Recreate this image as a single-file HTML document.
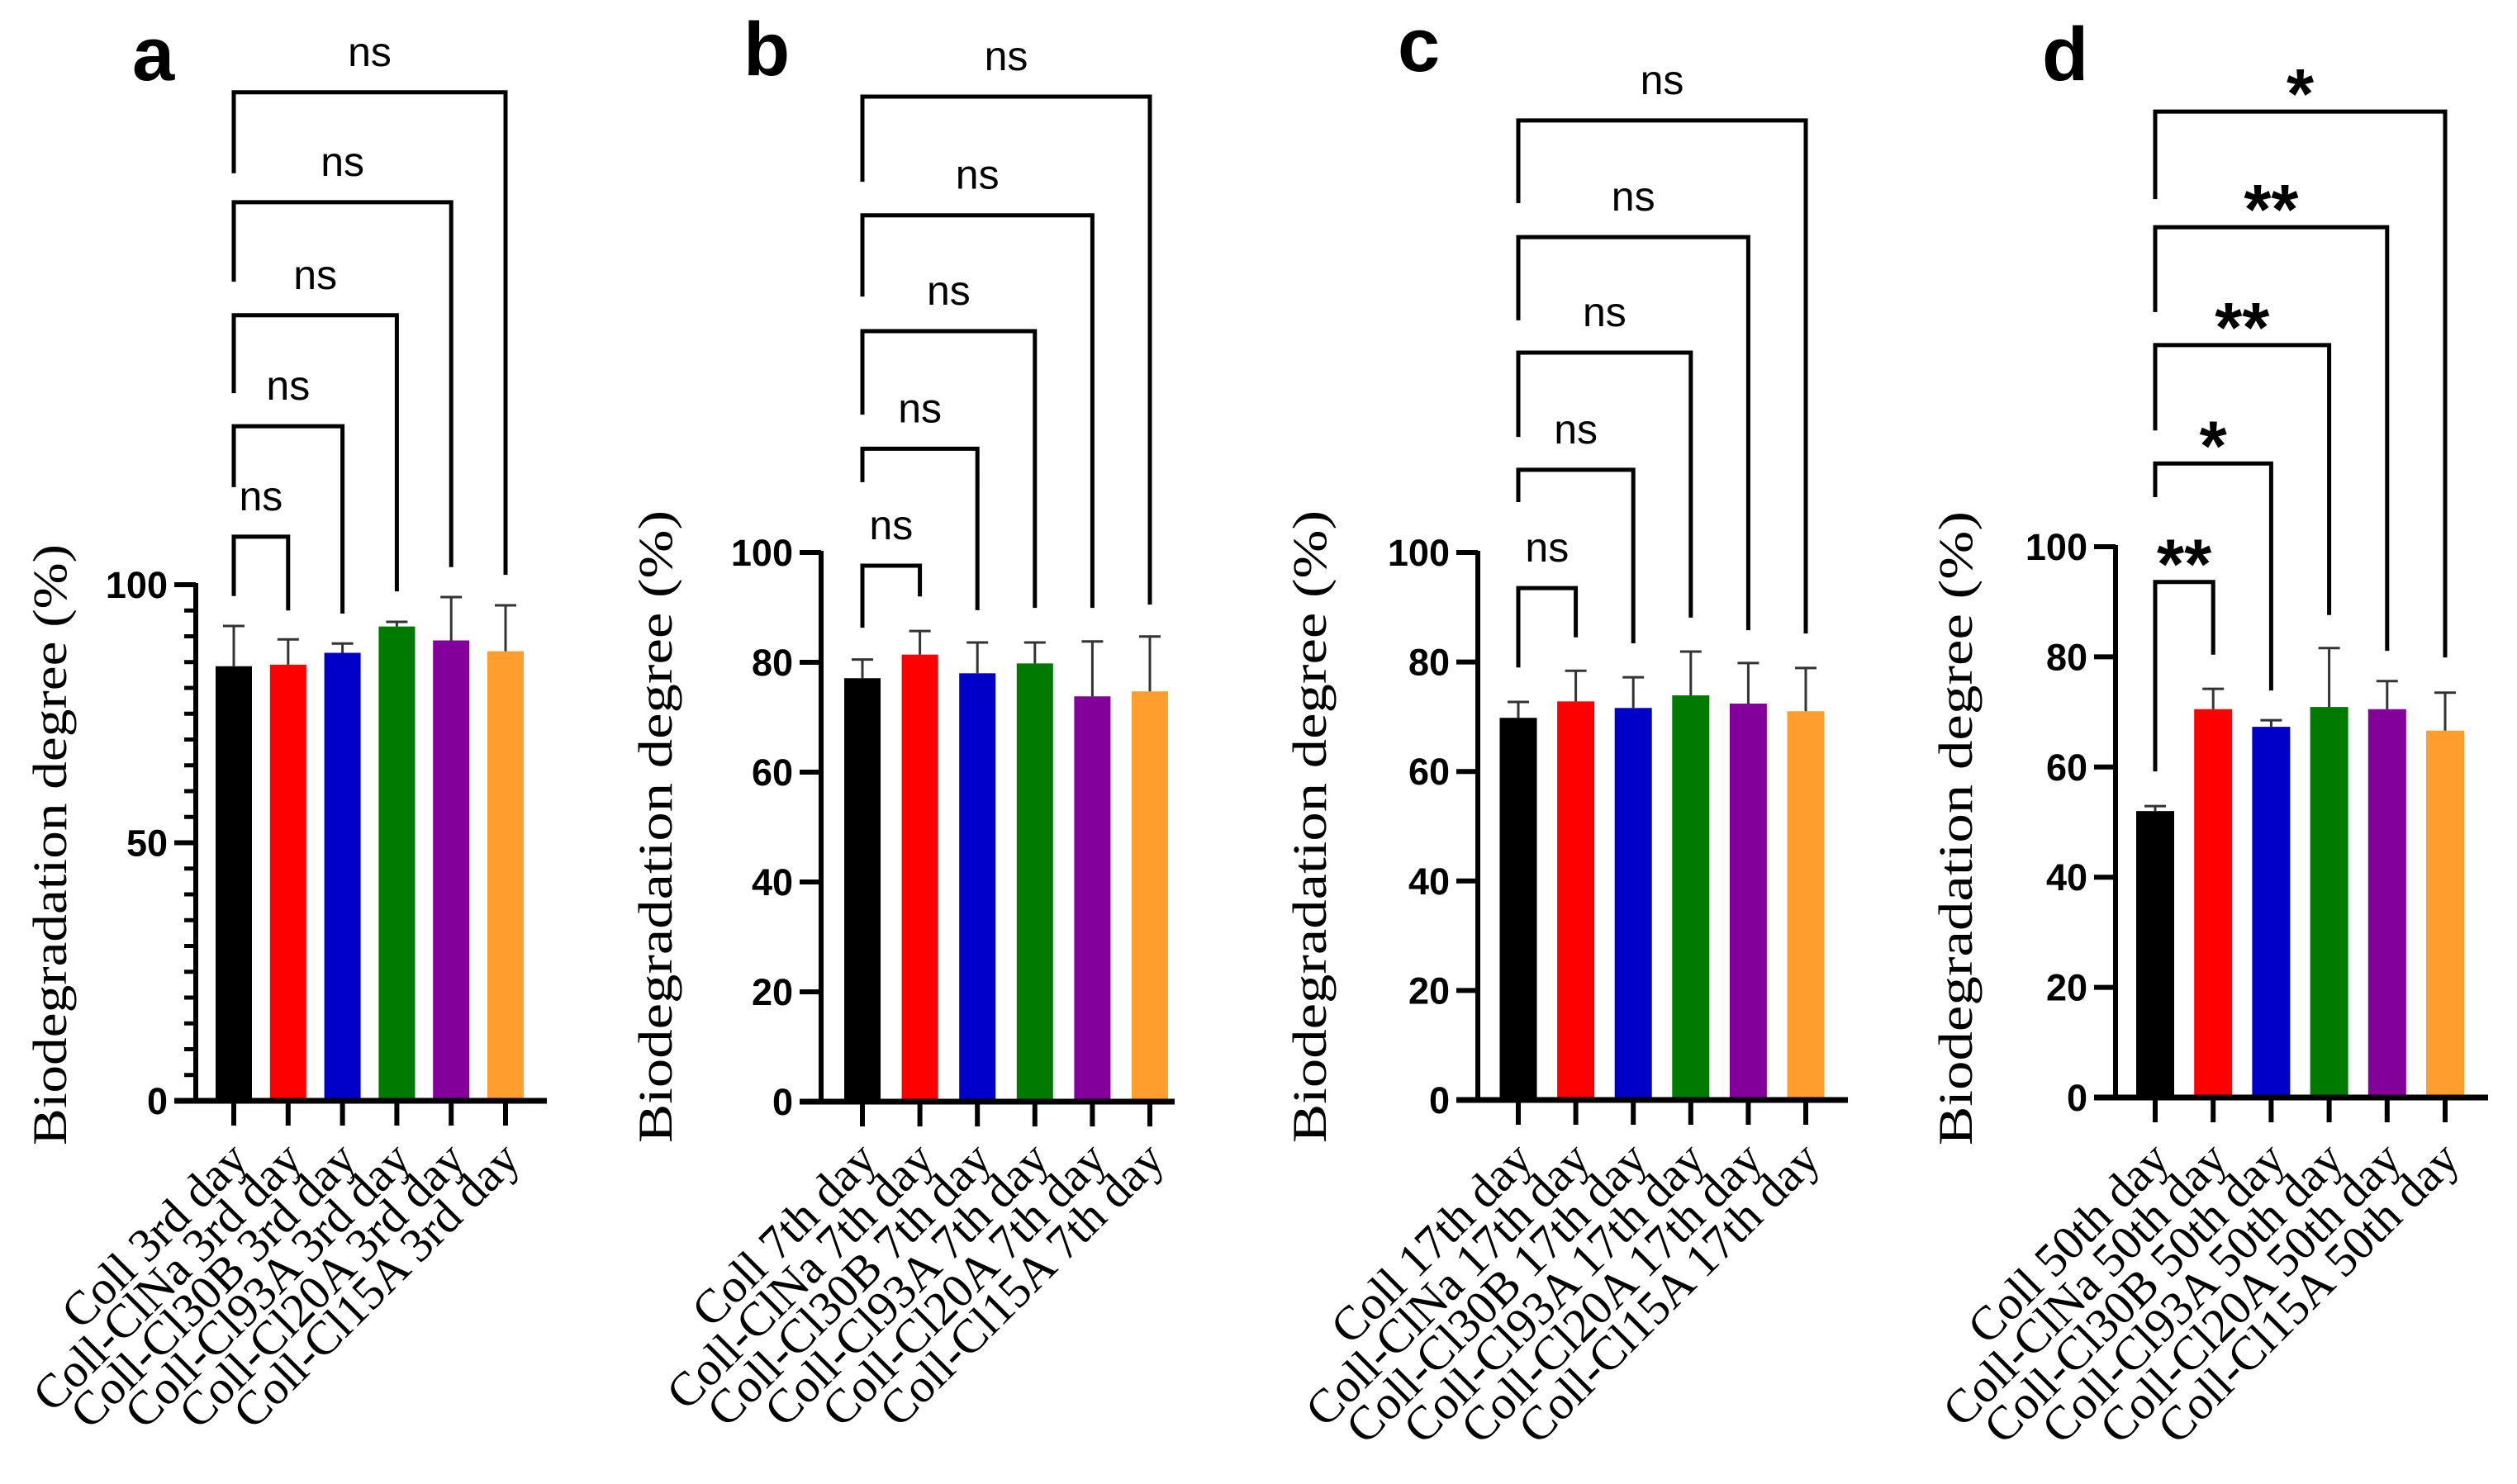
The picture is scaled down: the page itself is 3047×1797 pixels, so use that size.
<!DOCTYPE html>
<html><head><meta charset="utf-8"><style>
html,body{margin:0;padding:0;background:#fff;}
svg{display:block;}
text{font-family:"Liberation Sans",Arial,sans-serif;}
.serif{font-family:"Liberation Serif","Times New Roman",serif;}
</style></head><body>
<svg id="fig" width="3047" height="1797" viewBox="0 0 3047 1797" xmlns="http://www.w3.org/2000/svg"></svg>
<script>
// ---------- data ----------
const colors = ["#000000","#ff0000","#0000c8","#007a00","#84009a","#ff9d2e"];
const groupsA = ["Coll 3rd day","Coll-ClNa 3rd day","Coll-Cl30B 3rd day","Coll-Cl93A 3rd day","Coll-Cl20A 3rd day","Coll-Cl15A 3rd day"];
const groupsB = ["Coll 7th day","Coll-ClNa 7th day","Coll-Cl30B 7th day","Coll-Cl93A 7th day","Coll-Cl20A 7th day","Coll-Cl15A 7th day"];
const groupsC = ["Coll 17th day","Coll-ClNa 17th day","Coll-Cl30B 17th day","Coll-Cl93A 17th day","Coll-Cl20A 17th day","Coll-Cl15A 17th day"];
const groupsD = ["Coll 50th day","Coll-ClNa 50th day","Coll-Cl30B 50th day","Coll-Cl93A 50th day","Coll-Cl20A 50th day","Coll-Cl15A 50th day"];

const valuesA = [84.2, 84.5, 86.8, 91.9, 89.2, 87.1];
const errTopA = [92.0, 89.4, 88.6, 92.8, 97.6, 96.0];
const valuesB = [77.1, 81.4, 78.0, 79.8, 73.8, 74.7];
const errTopB = [80.5, 85.7, 83.6, 83.6, 83.8, 84.7];
const valuesC = [69.8, 72.8, 71.6, 73.9, 72.4, 71.0];
const errTopC = [72.7, 78.4, 77.2, 81.9, 79.8, 78.9];
const valuesD = [52.0, 70.5, 67.3, 70.9, 70.5, 66.6];
const errTopD = [52.9, 74.2, 68.5, 81.6, 75.6, 73.5];

const ticksA = [0, 50, 100];
const minorTicksA = [5,10,15,20,25,30,35,40,45,55,60,65,70,75,80,85,90,95];
const ticksBCD = [0, 20, 40, 60, 80, 100];

// significance brackets: level (data units), left-leg end, right-leg end, label
const sigLabelsA = ["ns","ns","ns","ns","ns"];
const sigLevelA = [109.3, 130.7, 152.2, 174.1, 195.4];
const sigLeftA = [97.8, 118.9, 137.1, 158.7, 179.7];
const sigRightA = [95.0, 94.4, 98.7, 103.4, 101.9];
const sigLabelsB = ["ns","ns","ns","ns","ns"];
const sigLevelB = [97.6, 118.9, 140.3, 161.4, 183.0];
const sigLeftB = [86.3, 112.8, 125.1, 146.6, 167.5];
const sigRightB = [92.0, 89.5, 89.9, 89.9, 90.5];
const sigLabelsC = ["ns","ns","ns","ns","ns"];
const sigLevelC = [93.5, 115.1, 136.5, 157.6, 178.9];
const sigLeftC = [79.0, 109.2, 121.1, 142.4, 163.8];
const sigRightC = [84.5, 83.4, 88.1, 85.8, 85.2];
const sigLabelsD = ["**","*","**","**","*"];
const sigLevelD = [93.6, 115.1, 136.6, 158.0, 179.0];
const sigLeftD = [59.2, 109.0, 121.1, 142.6, 163.1];
const sigRightD = [80.4, 73.9, 87.6, 81.1, 79.9];

// ---------- drawing ----------
const NS = "http://www.w3.org/2000/svg";
const svg = document.getElementById("fig");
function mk(tag, attrs, parent) {
  const e = document.createElementNS(NS, tag);
  for (const k in attrs) e.setAttribute(k, attrs[k]);
  (parent || svg).appendChild(e);
  return e;
}

function drawPanel(p) {
  const g = mk("g", {});
  
  
  const y = v => p.y0 - (v / 100) * (p.y0 - p.y100);
  const x = i => p.axisX + p.first + i * p.step;

  // panel letter
  const lt = mk("text", {x: p.letterX, y: p.letterY, "font-size": 92, "font-weight": "bold", fill: "#000"}, g);
  lt.textContent = p.letter;
  
  

  // bars
  p.values.forEach((v, i) => {
    const r = mk("rect", {x: x(i) - p.bw / 2, y: y(v), width: p.bw, height: p.y0 - y(v), fill: colors[i]}, g);
    
    
    const e = mk("path", {d: `M${x(i)},${y(v)}V${y(p.err[i])}M${x(i)-13},${y(p.err[i])}H${x(i)+13}`, stroke: "#333", "stroke-width": 3, fill: "none"}, g);
    
    
  });

  // y axis
  const ya = mk("path", {d: `M${p.axisX},${p.y100 - 2}V${p.y0}`, stroke: "#000", "stroke-width": 6, fill: "none"}, g);
  
  
  p.ticks.forEach(t => {
    const tk = mk("path", {d: `M${p.axisX - 26},${y(t)}H${p.axisX}`, stroke: "#000", "stroke-width": 6}, g);
    
    
    const tl = mk("text", {x: p.axisX - 34, y: y(t) + 16, "font-size": 45, "font-weight": "bold", "text-anchor": "end", fill: "#000"}, g);
    tl.textContent = t;
    
    
  });
  (p.minor || []).forEach(t => {
    const tk = mk("path", {d: `M${p.axisX - 14},${y(t)}H${p.axisX}`, stroke: "#000", "stroke-width": 5}, g);
    
    
  });

  // x axis
  const xa = mk("path", {d: `M${p.axisX - 26},${p.y0}H${p.xEnd}`, stroke: "#000", "stroke-width": 7, fill: "none"}, g);
  
  
  p.groups.forEach((name, i) => {
    const tk = mk("path", {d: `M${x(i)},${p.y0}V${p.y0 + 30}`, stroke: "#000", "stroke-width": 6}, g);
    
    
    const ax = x(i) + 20, ay = 1407;
    const tl = mk("text", {x: ax, y: ay, "font-size": 58, "text-anchor": "end", class: "serif", fill: "#000", transform: `rotate(-45 ${ax} ${ay})`}, g);
    tl.textContent = name;
    
    
  });

  // y title
  const tx = p.titleX, ty = p.titleY;
  const tt = mk("text", {x: tx, y: ty, "font-size": 58, class: "serif", "text-anchor": "middle", textLength: p.titleLen, lengthAdjust: "spacingAndGlyphs", fill: "#000", transform: `rotate(-90 ${tx} ${ty})`}, g);
  tt.textContent = "Biodegradation degree (%)";
  
  

  // significance brackets
  p.sigLabels.forEach((lab, k) => {
    const lx = x(0), rx = x(k + 1), ly = y(p.sigLevel[k]);
    const br = mk("path", {d: `M${lx},${y(p.sigLeft[k])}V${ly}H${rx}V${y(p.sigRight[k])}`, stroke: "#000", "stroke-width": 5, fill: "none"}, g);
    
    
    const star = lab.indexOf("*") >= 0;
    const st = mk("text", {x: (lx + rx) / 2, y: star ? ly + 8 : ly - 32, "font-size": star ? 85 : 50, "font-weight": star ? "bold" : "normal", "text-anchor": "middle", fill: "#000"}, g);
    st.textContent = lab;
    
    
  });
}

const panels = [
  {letter:"a", axisX:237, first:46, step:65.8, bw:44, xEnd:662, y0:1333, y100:708, groups:groupsA, values:valuesA, err:errTopA, ticks:ticksA, minor:minorTicksA,
   sigLabels:sigLabelsA, sigLevel:sigLevelA, sigLeft:sigLeftA, sigRight:sigRightA, letterX:160, letterY:97, titleX:80, titleY:1023, titleLen:728},
  {letter:"b", axisX:994, first:50, step:69.6, bw:44, xEnd:1422, y0:1334, y100:669, groups:groupsB, values:valuesB, err:errTopB, ticks:ticksBCD,
   sigLabels:sigLabelsB, sigLevel:sigLevelB, sigLeft:sigLeftB, sigRight:sigRightB, letterX:900, letterY:91, titleX:813, titleY:1001, titleLen:766},
  {letter:"c", axisX:1789, first:49, step:69.6, bw:45, xEnd:2237, y0:1332, y100:669, groups:groupsC, values:valuesC, err:errTopC, ticks:ticksBCD,
   sigLabels:sigLabelsC, sigLevel:sigLevelC, sigLeft:sigLeftC, sigRight:sigRightC, letterX:1692, letterY:86, titleX:1605, titleY:1001, titleLen:766},
  {letter:"d", axisX:2561, first:48, step:70.2, bw:46, xEnd:3012, y0:1329, y100:662, groups:groupsD, values:valuesD, err:errTopD, ticks:ticksBCD,
   sigLabels:sigLabelsD, sigLevel:sigLevelD, sigLeft:sigLeftD, sigRight:sigRightD, letterX:2472, letterY:97, titleX:2387, titleY:1003, titleLen:768}
];
panels.forEach(drawPanel);
</script>
</body></html>
